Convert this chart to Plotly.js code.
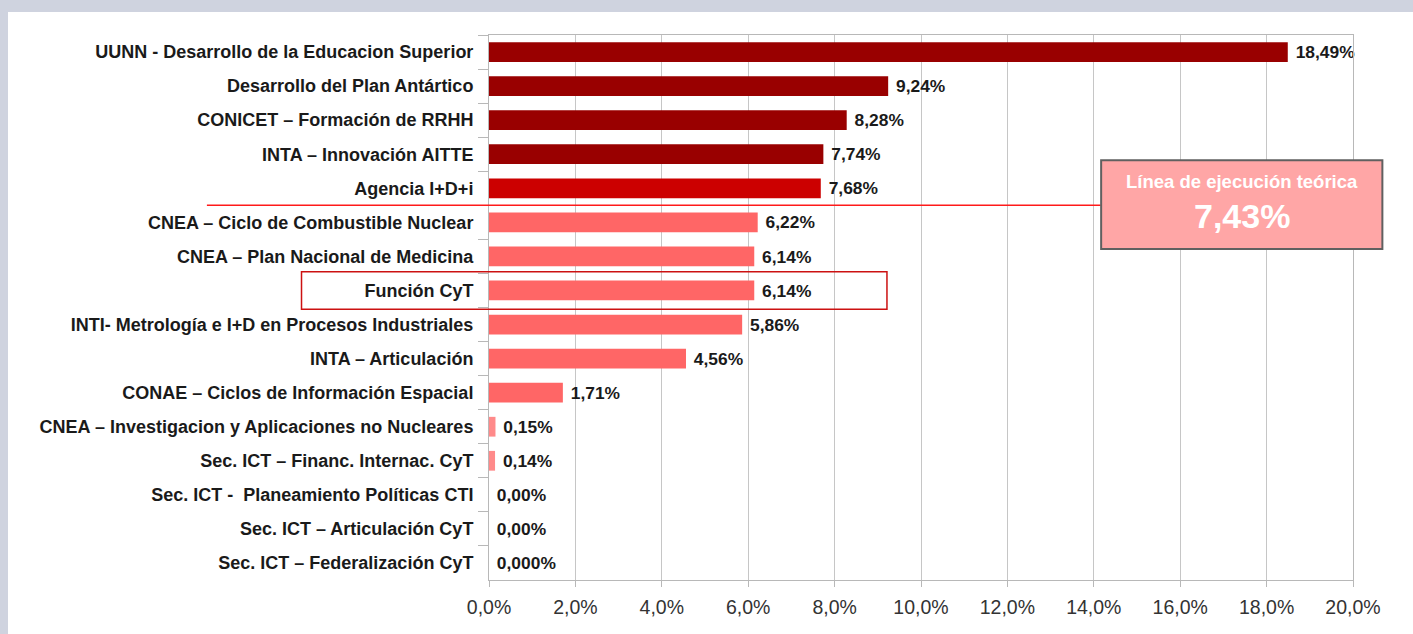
<!DOCTYPE html>
<html>
<head>
<meta charset="utf-8">
<script src="https://cdn.plot.ly/plotly-3.0.1.min.js"></script>
<style>
  html, body { margin:0; padding:0; background:#cfd3df; width:1413px; height:634px; overflow:hidden; }
  #chart { position:absolute; left:8px; top:12px; width:1405px; height:622px; background:#fff; }
</style>
</head>
<body>
<div id="chart"></div>
<script>
const categories = [
  "UUNN - Desarrollo de la Educacion Superior",
  "Desarrollo del Plan Antártico",
  "CONICET – Formación de RRHH",
  "INTA – Innovación AITTE",
  "Agencia I+D+i",
  "CNEA – Ciclo de Combustible Nuclear",
  "CNEA – Plan Nacional de Medicina",
  "Función CyT",
  "INTI- Metrología e I+D en Procesos Industriales",
  "INTA – Articulación",
  "CONAE – Ciclos de Información Espacial",
  "CNEA – Investigacion y Aplicaciones no Nucleares",
  "Sec. ICT – Financ. Internac. CyT",
  "Sec. ICT -  Planeamiento Políticas CTI",
  "Sec. ICT – Articulación CyT",
  "Sec. ICT – Federalización CyT"
];
const values = [18.49, 9.24, 8.28, 7.74, 7.68, 6.22, 6.14, 6.14, 5.86, 4.56, 1.71, 0.15, 0.14, 0, 0, 0];
const valueLabels = ["18,49%", "9,24%", "8,28%", "7,74%", "7,68%", "6,22%", "6,14%", "6,14%", "5,86%", "4,56%", "1,71%", "0,15%", "0,14%", "0,00%", "0,00%", "0,000%"];
const barColors = ["#990000", "#990000", "#990000", "#990000", "#cc0000", "#ff6666", "#ff6666", "#ff6666", "#ff6666", "#ff6666", "#ff6666", "#ff8a8a", "#ff8a8a", "#ff6666", "#ff6666", "#ff6666"];
const xTickVals = [0, 2, 4, 6, 8, 10, 12, 14, 16, 18, 20];
const xTickText = ["0,0%", "2,0%", "4,0%", "6,0%", "8,0%", "10,0%", "12,0%", "14,0%", "16,0%", "18,0%", "20,0%"];
const theoreticalLine = 7.43;
const theoreticalTitle = "Línea de ejecución teórica";
const theoreticalText = "7,43%";
const highlighted = "Función CyT";

const FONT = '"Liberation Sans", Arial, sans-serif';
const n = categories.length;
// boundary between rows above and below the theoretical line
const splitIdx = values.filter(v => v > theoreticalLine).length; // 5
const rowToPaper = r => 1 - (r + 0.5) / n; // r in category coordinates
const lineY = rowToPaper(splitIdx - 0.5);
const hIdx = categories.indexOf(highlighted);

const trace = {
  type: 'bar',
  orientation: 'h',
  y: categories,
  x: values,
  marker: { color: barColors },
  text: valueLabels,
  texttemplate: '\u00a0%{text}',
  textposition: 'outside',
  textfont: { family: FONT, size: 18.5, color: '#1a1a1a', weight: 'bold' },
  cliponaxis: false,
  hoverinfo: 'none'
};

const layout = {
  width: 1405, height: 622,
  paper_bgcolor: '#ffffff', plot_bgcolor: '#ffffff',
  margin: { l: 481, r: 60, t: 23, b: 54 },
  showlegend: false,
  bargap: 0.42,
  font: { family: FONT, color: '#1a1a1a' },
  xaxis: {
    range: [0, 20],
    tickvals: xTickVals, ticktext: xTickText,
    showgrid: true, gridcolor: '#c6c6c6', gridwidth: 1,
    zeroline: false,
    showline: true, linecolor: '#b8b8b8', linewidth: 1, mirror: true,
    ticks: 'outside', ticklen: 6, tickcolor: '#b8b8b8',
    tickfont: { family: FONT, size: 19.5, color: '#333333' },
    ticklabelstandoff: 4,
    fixedrange: true
  },
  yaxis: {
    autorange: 'reversed',
    type: 'category',
    showgrid: false,
    showline: true, linecolor: '#b8b8b8', linewidth: 1, mirror: true,
    ticks: 'outside', tickson: 'boundaries', ticklen: 10, tickcolor: '#b8b8b8',
    tickfont: { family: FONT, size: 18, color: '#1a1a1a', weight: 'bold' },
    ticklabelstandoff: 11,
    fixedrange: true
  },
  shapes: [
    { type: 'line', xref: 'paper', yref: 'paper', x0: -0.3265, x1: 0.708, y0: lineY, y1: lineY,
      line: { color: '#ff1a1a', width: 1.5 } },
    { type: 'rect', xref: 'paper', yref: 'paper', x0: -0.217, x1: 0.4606,
      y0: rowToPaper(hIdx) - 0.55 / n, y1: rowToPaper(hIdx) + 0.55 / n,
      line: { color: '#cc1111', width: 1.5 }, fillcolor: 'rgba(0,0,0,0)' },
    { type: 'rect', xref: 'paper', yref: 'paper', x0: 0.7085, x1: 1.034, y0: 0.6075, y1: 0.77,
      line: { color: '#606060', width: 2 }, fillcolor: '#ffa6a6' }
  ],
  annotations: [
    { xref: 'paper', yref: 'paper', x: 0.871, y: 0.731, text: '<b>' + theoreticalTitle + '</b>',
      showarrow: false, xanchor: 'center', yanchor: 'middle',
      font: { family: FONT, size: 18.5, color: '#ffffff' } },
    { xref: 'paper', yref: 'paper', x: 0.871, y: 0.667, text: '<b>' + theoreticalText + '</b>',
      showarrow: false, xanchor: 'center', yanchor: 'middle',
      font: { family: FONT, size: 34, color: '#ffffff' } }
  ]
};

Plotly.newPlot('chart', [trace], layout, { staticPlot: true, displayModeBar: false });
</script>
</body>
</html>
